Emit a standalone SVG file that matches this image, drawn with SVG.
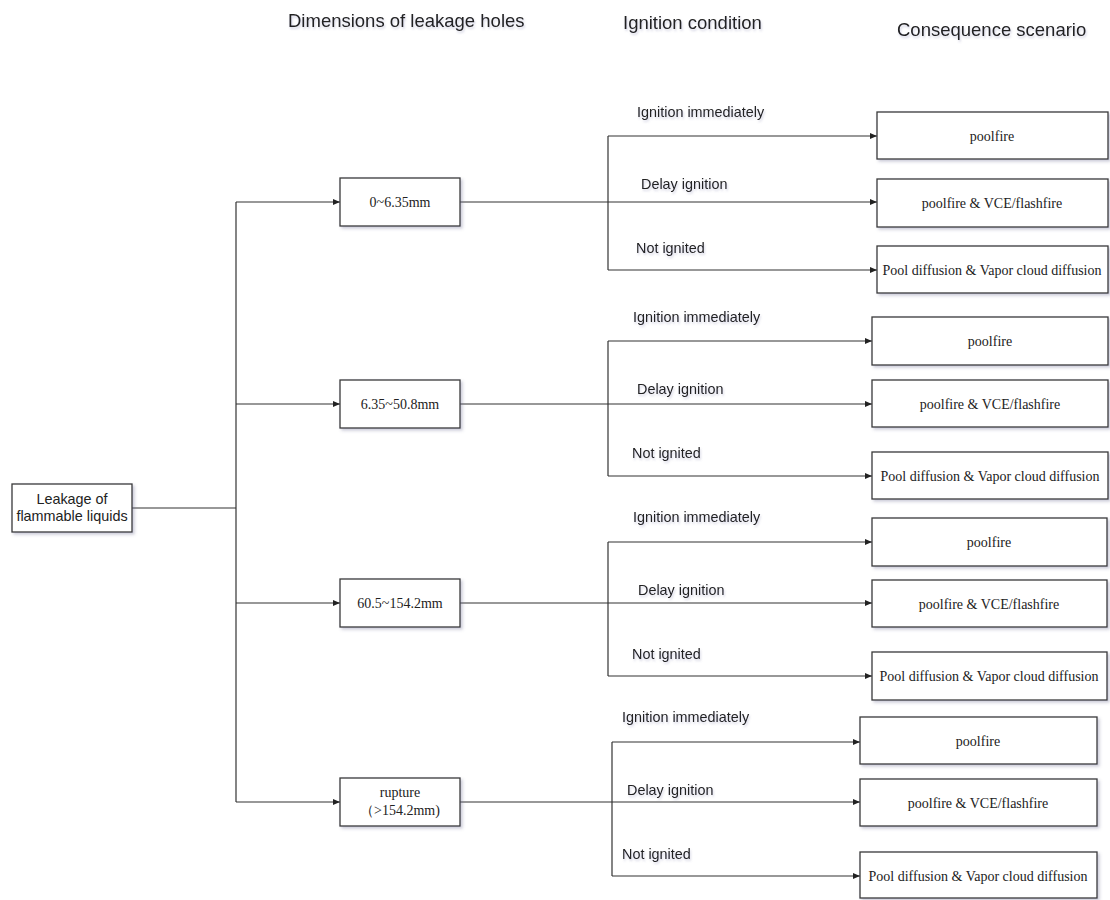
<svg xmlns="http://www.w3.org/2000/svg" width="1110" height="900" viewBox="0 0 1110 900">
  <style>
    .box { fill: #ffffff; stroke: #3a3a3a; stroke-width: 1.3; filter: url(#shadow); }
    .serif { font-family: "Liberation Serif", "Times New Roman", serif; font-size: 14px; fill: #222; text-anchor: middle; }
    .sans { font-family: "Liberation Sans", Arial, sans-serif; font-size: 14.4px; fill: #222; }
    .head { font-family: "Liberation Sans", Arial, sans-serif; font-size: 18.5px; fill: #222; filter: url(#tshadow); }
    .lbl { filter: url(#tshadow); }
    .wire { fill: none; stroke: #333; stroke-width: 1.2; }
    .arrow { marker-end: url(#arrowhead); }
  </style>
  <defs>
    <filter id="shadow" x="-10%" y="-20%" width="130%" height="150%">
      <feDropShadow dx="2" dy="2" stdDeviation="1.5" flood-color="#6a6a90" flood-opacity="0.35"/>
    </filter>
    <filter id="tshadow" x="-10%" y="-30%" width="120%" height="180%">
      <feDropShadow dx="1" dy="2" stdDeviation="1.2" flood-color="#7070a0" flood-opacity="0.3"/>
    </filter>
    <marker id="arrowhead" markerWidth="8" markerHeight="8" refX="7" refY="4" orient="auto" markerUnits="userSpaceOnUse">
      <path d="M0,1 L7,4 L0,7 Z" fill="#222"/>
    </marker>
  </defs>

  <rect width="1110" height="900" fill="#ffffff"/>

  <!-- column headings -->
  <g id="headings">
    <text class="head" x="288" y="27">Dimensions of leakage holes</text>
    <text class="head" x="623" y="29">Ignition condition</text>
    <text class="head" x="897" y="36">Consequence scenario</text>
  </g>

  <!-- connectors -->
  <g id="connectors">
    <!-- root to trunk -->
    <path class="wire" d="M132,508 H236"/>
    <path class="wire" d="M236,202 V802"/>
    <path class="wire arrow" d="M236,202 H340"/>
    <path class="wire arrow" d="M236,404 H340"/>
    <path class="wire arrow" d="M236,603 H340"/>
    <path class="wire arrow" d="M236,802 H340"/>

    <!-- 0~6.35mm -->
    <path class="wire arrow" d="M460,202 H877"/>
    <path class="wire" d="M608,136 V270"/>
    <path class="wire arrow" d="M608,136 H877"/>
    <path class="wire arrow" d="M608,270 H877"/>

    <!-- 6.35~50.8mm -->
    <path class="wire arrow" d="M460,404 H872"/>
    <path class="wire" d="M608,341 V476"/>
    <path class="wire arrow" d="M608,341 H872"/>
    <path class="wire arrow" d="M608,476 H872"/>

    <!-- 60.5~154.2mm -->
    <path class="wire arrow" d="M460,603 H872"/>
    <path class="wire" d="M608,542 V676"/>
    <path class="wire arrow" d="M608,542 H872"/>
    <path class="wire arrow" d="M608,676 H872"/>

    <!-- rupture -->
    <path class="wire arrow" d="M460,802 H860"/>
    <path class="wire" d="M612,742 V876"/>
    <path class="wire arrow" d="M612,742 H860"/>
    <path class="wire arrow" d="M612,876 H860"/>
  </g>

  <!-- branch labels -->
  <g id="branch-labels" class="sans">
    <text class="lbl" x="637" y="117">Ignition immediately</text>
    <text class="lbl" x="641" y="189">Delay ignition</text>
    <text class="lbl" x="636" y="253">Not ignited</text>

    <text class="lbl" x="633" y="322">Ignition immediately</text>
    <text class="lbl" x="637" y="394">Delay ignition</text>
    <text class="lbl" x="632" y="458">Not ignited</text>

    <text class="lbl" x="633" y="522">Ignition immediately</text>
    <text class="lbl" x="638" y="595">Delay ignition</text>
    <text class="lbl" x="632" y="659">Not ignited</text>

    <text class="lbl" x="622" y="722">Ignition immediately</text>
    <text class="lbl" x="627" y="795">Delay ignition</text>
    <text class="lbl" x="622" y="859">Not ignited</text>
  </g>

  <!-- root node -->
  <g id="leakage">
    <rect class="box" x="12" y="484" width="120" height="48"/>
    <text class="sans" x="72" y="504" text-anchor="middle">Leakage of</text>
    <text class="sans" x="72" y="521" text-anchor="middle">flammable liquids</text>
  </g>

  <!-- hole sizes -->
  <g id="hole-small">
    <rect class="box" x="340" y="178" width="120" height="48"/>
    <text class="serif" x="400" y="207">0~6.35mm</text>
  </g>
  <g id="hole-medium">
    <rect class="box" x="340" y="380" width="120" height="48"/>
    <text class="serif" x="400" y="409">6.35~50.8mm</text>
  </g>
  <g id="hole-large">
    <rect class="box" x="340" y="579" width="120" height="48"/>
    <text class="serif" x="400" y="608">60.5~154.2mm</text>
  </g>
  <g id="hole-rupture">
    <rect class="box" x="340" y="778" width="120" height="48"/>
    <text class="serif" x="400" y="797">rupture</text>
    <text class="serif" x="400" y="815">（&gt;154.2mm)</text>
  </g>

  <!-- consequences: 0~6.35mm -->
  <g id="c1-poolfire">
    <rect class="box" x="877" y="112" width="231" height="47"/>
    <text class="serif" x="992" y="141">poolfire</text>
  </g>
  <g id="c1-vce">
    <rect class="box" x="877" y="179" width="231" height="48"/>
    <text class="serif" x="992" y="208">poolfire &amp; VCE/flashfire</text>
  </g>
  <g id="c1-diffusion">
    <rect class="box" x="877" y="246" width="231" height="47"/>
    <text class="serif" x="992" y="275">Pool diffusion &amp; Vapor cloud diffusion</text>
  </g>

  <!-- consequences: 6.35~50.8mm -->
  <g id="c2-poolfire">
    <rect class="box" x="872" y="317" width="236" height="48"/>
    <text class="serif" x="990" y="346">poolfire</text>
  </g>
  <g id="c2-vce">
    <rect class="box" x="872" y="380" width="236" height="47"/>
    <text class="serif" x="990" y="409">poolfire &amp; VCE/flashfire</text>
  </g>
  <g id="c2-diffusion">
    <rect class="box" x="872" y="452" width="236" height="47"/>
    <text class="serif" x="990" y="481">Pool diffusion &amp; Vapor cloud diffusion</text>
  </g>

  <!-- consequences: 60.5~154.2mm -->
  <g id="c3-poolfire">
    <rect class="box" x="872" y="518" width="235" height="48"/>
    <text class="serif" x="989" y="547">poolfire</text>
  </g>
  <g id="c3-vce">
    <rect class="box" x="872" y="580" width="235" height="47"/>
    <text class="serif" x="989" y="609">poolfire &amp; VCE/flashfire</text>
  </g>
  <g id="c3-diffusion">
    <rect class="box" x="872" y="652" width="235" height="48"/>
    <text class="serif" x="989" y="681">Pool diffusion &amp; Vapor cloud diffusion</text>
  </g>

  <!-- consequences: rupture -->
  <g id="c4-poolfire">
    <rect class="box" x="860" y="717" width="237" height="47"/>
    <text class="serif" x="978" y="746">poolfire</text>
  </g>
  <g id="c4-vce">
    <rect class="box" x="860" y="779" width="237" height="47"/>
    <text class="serif" x="978" y="808">poolfire &amp; VCE/flashfire</text>
  </g>
  <g id="c4-diffusion">
    <rect class="box" x="860" y="852" width="237" height="46"/>
    <text class="serif" x="978" y="881">Pool diffusion &amp; Vapor cloud diffusion</text>
  </g>
</svg>
